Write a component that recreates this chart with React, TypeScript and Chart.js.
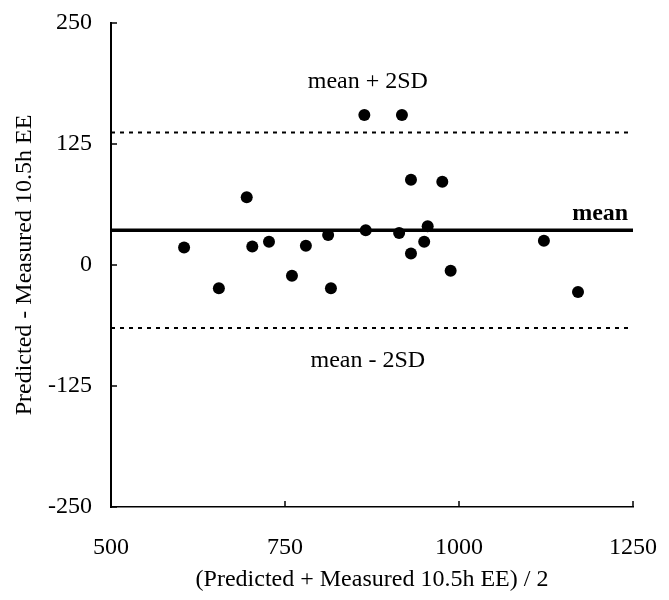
import React, { useEffect, useRef } from "react";
import { Chart, registerables } from "chart.js";

Chart.register(...registerables);

// Bland-Altman data: x = (Predicted + Measured)/2, y = Predicted - Measured
const avgValues = [605, 655, 695, 703, 727, 760, 780, 812, 816, 864, 866, 918, 914, 931, 931, 950, 955, 976, 988, 1122, 1171];
const diffValues = [18, -24, 70, 19, 24, -11, 20, 31, -24, 155, 36, 155, 33, 88, 12, 24, 40, 86, -6, 25, -28];

const meanDiff = 36;
const upperLimit = 137;
const lowerLimit = -65;

const xRange = [500, 1250];
const yRange = [-250, 250];
const xStep = 250;
const yStep = 125;

const xTitle = "(Predicted + Measured 10.5h EE) / 2";
const yTitle = "Predicted - Measured 10.5h EE";

const annotations = [
  { text: "mean + 2SD", x: 869, y: 183, align: "center", bold: false },
  { text: "mean - 2SD", x: 869, y: -105, align: "center", bold: false },
  { text: "mean", x: 1243, y: 47, align: "right", bold: true },
];

const FONT = "'Liberation Serif', 'Times New Roman', serif";

export default function App() {
  const ref = useRef<HTMLCanvasElement | null>(null);

  useEffect(() => {
    document.body.style.margin = "0";
    const canvas = ref.current;
    if (!canvas) return;
    Chart.defaults.color = "#000";

    const innerTicks = {
      id: "innerTicks",
      afterDraw(chart: any) {
        const { ctx, scales } = chart;
        const xs = scales.x;
        const ys = scales.y;
        const area = chart.chartArea;
        ctx.save();
        ctx.strokeStyle = "#000";
        ctx.lineWidth = 1.5;
        xs.ticks.forEach((t: any) => {
          const px = xs.getPixelForValue(t.value);
          ctx.beginPath();
          ctx.moveTo(px, area.bottom);
          ctx.lineTo(px, area.bottom - 6);
          ctx.stroke();
        });
        ys.ticks.forEach((t: any) => {
          const py = ys.getPixelForValue(t.value);
          ctx.beginPath();
          ctx.moveTo(area.left, py);
          ctx.lineTo(area.left + 6, py);
          ctx.stroke();
        });
        ctx.fillStyle = "#000";
        ctx.textBaseline = "alphabetic";
        annotations.forEach((a) => {
          ctx.font = `${a.bold ? "bold " : ""}24px ${FONT}`;
          ctx.textAlign = a.align as CanvasTextAlign;
          ctx.fillText(a.text, xs.getPixelForValue(a.x), ys.getPixelForValue(a.y));
        });
        ctx.restore();
      },
    };

    const chart = new Chart(canvas, {
      type: "scatter",
      data: {
        datasets: [
          {
            label: "mean",
            data: [
              { x: xRange[0], y: meanDiff },
              { x: xRange[1], y: meanDiff },
            ],
            showLine: true,
            borderColor: "#000",
            borderWidth: 3.5,
            pointRadius: 0,
          },
          {
            label: "upper",
            data: [
              { x: xRange[0], y: upperLimit },
              { x: xRange[1], y: upperLimit },
            ],
            showLine: true,
            borderColor: "#000",
            borderWidth: 2,
            borderDash: [4, 5],
            pointRadius: 0,
          },
          {
            label: "lower",
            data: [
              { x: xRange[0], y: lowerLimit },
              { x: xRange[1], y: lowerLimit },
            ],
            showLine: true,
            borderColor: "#000",
            borderWidth: 2,
            borderDash: [4, 5],
            pointRadius: 0,
          },
          {
            label: "points",
            data: avgValues.map((x, i) => ({ x, y: diffValues[i] })),
            backgroundColor: "#000",
            borderColor: "#000",
            pointRadius: 6,
            pointBorderWidth: 0,
          },
        ],
      },
      options: {
        animation: false,
        responsive: false,
        devicePixelRatio: 1,
        layout: { padding: { top: 23, right: 36, left: 0, bottom: 0 } },
        plugins: { legend: { display: false }, tooltip: { enabled: false } },
        scales: {
          x: {
            type: "linear",
            min: xRange[0],
            max: xRange[1],
            ticks: {
              stepSize: xStep,
              padding: 26,
              font: { family: FONT, size: 24 },
              color: "#000",
              callback: (v: any) => String(v),
            },
            grid: { display: true, drawOnChartArea: false, drawTicks: false },
            border: { display: true, color: "#000", width: 1.5 },
            title: { display: true, text: xTitle, font: { family: FONT, size: 24 }, color: "#000", padding: { top: 0, bottom: 6 } },
            afterFit(scale: any) {
              scale.height = 93;
              scale.paddingLeft = 0;
              scale.paddingRight = 0;
            },
          },
          y: {
            type: "linear",
            min: yRange[0],
            max: yRange[1],
            ticks: {
              stepSize: yStep,
              padding: 19,
              font: { family: FONT, size: 24 },
              color: "#000",
              callback: (v: any) => String(v),
            },
            grid: { display: true, drawOnChartArea: false, drawTicks: false },
            border: { display: true, color: "#000", width: 2 },
            title: { display: true, text: yTitle, font: { family: FONT, size: 24 }, color: "#000", padding: { top: 10, bottom: 0 } },
            afterFit(scale: any) {
              scale.width = 111;
              scale.paddingTop = 0;
              scale.paddingBottom = 0;
            },
          },
        },
      },
      plugins: [innerTicks],
    });

    return () => chart.destroy();
  }, []);

  return (
    <div style={{ width: 669, height: 600, background: "#fff" }}>
      <canvas ref={ref} width={669} height={600} />
    </div>
  );
}
